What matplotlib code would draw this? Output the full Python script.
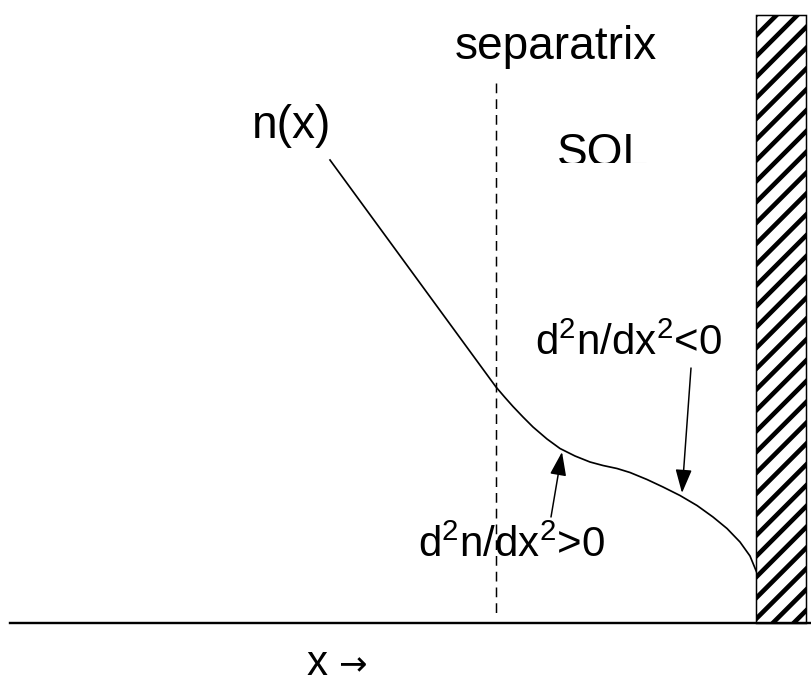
"""Sketch of the density profile n(x) across the separatrix into the SOL"""

import matplotlib
matplotlib.use("Agg")
import matplotlib.pyplot as plt
from matplotlib.patches import Rectangle
from matplotlib.transforms import Bbox

# schematic coordinates (image-like units, y measured downwards)
profile_x = [330, 496, 505, 513, 523, 533, 547, 560, 575, 590, 603, 617,
             630, 647, 663, 680, 697, 713, 727, 740, 750, 757]
profile_y = [160, 387, 397.5, 406.5, 417, 427, 439, 448.5, 456, 462, 465.5,
             468.5, 472.5, 479.5, 487, 495.5, 505.5, 517, 528.5, 542, 556, 573]

separatrix_x = 496
separatrix_span = [83, 617]
floor_y = 623
floor_span = [10, 811]
wall_span_x = [756, 806]
wall_top = 15

labels = ["n(x)", "separatrix", "SOL",
          r"d$^{2}$n/dx$^{2}$<0", r"d$^{2}$n/dx$^{2}$>0", "x"]
label_pos = [(252, 138), (455, 59), (557, 166),
             (535, 355), (418, 557), (307, 675)]
label_em = [46, 46, 46, 42, 42, 42]   # font size in pixels

# arrows: (tail, head)
arrows = [((691, 368), (682, 493)), ((551, 517), (562, 452))]

W, H, DPI = 811, 684, 125
PT = 72 / DPI  # pixels -> points

plt.rcParams['font.family'] = ['Liberation Sans', 'DejaVu Sans']
plt.rcParams['mathtext.fontset'] = 'custom'
plt.rcParams['mathtext.rm'] = 'Liberation Sans'
plt.rcParams['mathtext.it'] = 'Liberation Sans'
plt.rcParams['hatch.linewidth'] = 4.6 * PT

fig = plt.figure(figsize=(W / DPI, H / DPI), dpi=DPI)
ax = fig.add_axes([0, 0, 1, 1])
ax.set_xlim(0, W)
ax.set_ylim(H, 0)
ax.axis('off')

# density profile
ax.plot(profile_x, profile_y, 'k-', lw=1.7 * PT, solid_joinstyle='round')

# separatrix
ax.plot([separatrix_x, separatrix_x], separatrix_span, color='k',
        lw=1.5 * PT, dashes=(6.5, 4))

# wall
wall = Rectangle((wall_span_x[0], wall_top), wall_span_x[1] - wall_span_x[0],
                 floor_y - wall_top, facecolor='white', edgecolor='black',
                 hatch='//', lw=1.5 * PT, zorder=3)
ax.add_patch(wall)

# floor line
ax.plot(floor_span, [floor_y, floor_y], 'k-', lw=2.4 * PT, zorder=4)

for txt, (tx, ty), em in zip(labels, label_pos, label_em):
    t = ax.text(tx, ty, txt, fontsize=em * PT, ha='left', va='baseline')
    if txt == "SOL":
        # the label is cut off at the bottom in the original
        t.set_clip_box(Bbox([[0, H - 163], [W, H]]))
        t.set_clip_on(True)

# direction arrow next to the x label
ax.text(338, 675, "\u2192", fontsize=34 * PT, family='DejaVu Sans',
        ha='left', va='baseline')

for (tail, head) in arrows:
    ax.annotate("", xy=head, xytext=tail,
                arrowprops=dict(arrowstyle='-|>,head_length=0.72,head_width=0.25',
                                color='k', lw=1.5 * PT, mutation_scale=28 * PT,
                                shrinkA=0, shrinkB=0))

plt.savefig("out.png", dpi=DPI)
